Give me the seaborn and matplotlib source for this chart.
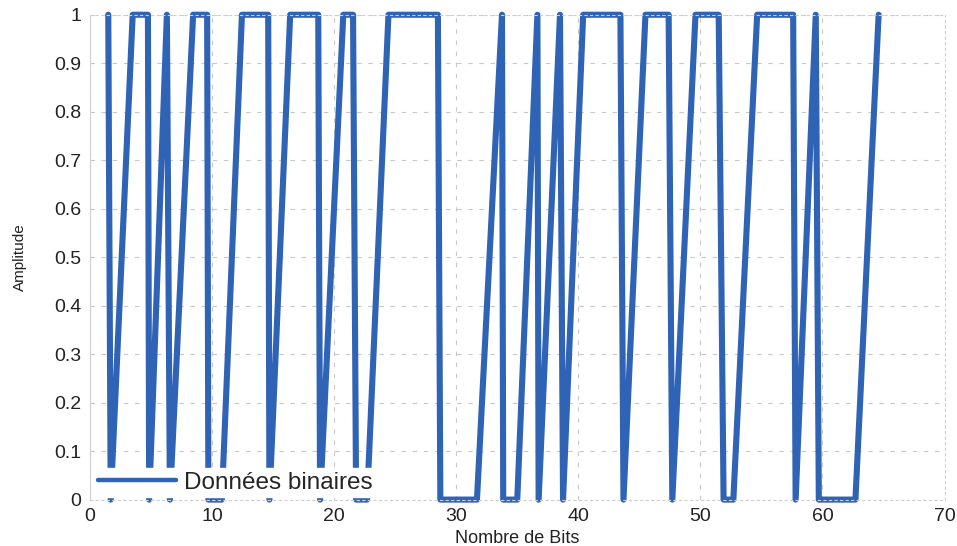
import matplotlib
matplotlib.use("Agg")
import matplotlib.pyplot as plt
import seaborn as sns
import pandas as pd

# Vertices of the binary-data trace (bit position, amplitude)
bit_pos = [1.5, 1.7, 3.5, 4.75, 4.85, 6.3, 6.55, 8.45, 9.6, 9.7, 10.8, 12.45,
           14.6, 14.7, 16.4, 18.7, 18.85, 20.75, 21.55, 21.8, 22.7, 24.45,
           28.5, 28.7, 31.7, 33.75, 33.85, 35.0, 36.65, 36.75, 38.5, 38.75,
           40.4, 43.45, 43.7, 45.5, 47.4, 47.7, 49.6, 51.5, 51.9, 52.7,
           54.65, 57.6, 57.8, 59.45, 59.7, 62.7, 64.6]
amplitude = [1, 0, 1, 1, 0, 1, 0, 1, 1, 0, 0, 1,
             1, 0, 1, 1, 0, 1, 1, 0, 0, 1,
             1, 0, 0, 1, 0, 0, 1, 0, 1, 0,
             1, 1, 0, 1, 1, 0, 1, 1, 0, 0,
             1, 1, 0, 1, 0, 0, 1]

x_ticks = [0, 10, 20, 30, 40, 50, 60, 70]
y_ticks = [0, 0.1, 0.2, 0.3, 0.4, 0.5, 0.6, 0.7, 0.8, 0.9, 1]
y_tick_labels = ["0", "0.1", "0.2", "0.3", "0.4", "0.5", "0.6", "0.7", "0.8", "0.9", "1"]

series_name = "Données binaires"
x_label = "Nombre de Bits"
y_label = "Amplitude"

df = pd.DataFrame({"x": bit_pos, "y": amplitude})

sns.set_theme(style="white")
plt.rcParams["font.family"] = ["Liberation Sans", "DejaVu Sans"]

fig = plt.figure(figsize=(9.57, 5.46), dpi=100)
ax = fig.add_axes([0.094, 0.085, 0.893, 0.888])

sns.lineplot(data=df, x="x", y="y", sort=False, estimator=None, ax=ax,
             color="#2f63b5", linewidth=4.4, label=series_name, clip_on=False)

ax.set_xlim(0, 70)
ax.set_ylim(0, 1)
ax.set_xticks(x_ticks)
ax.set_xticklabels([str(t) for t in x_ticks])
ax.set_yticks(y_ticks)
ax.set_yticklabels(y_tick_labels)
ax.tick_params(axis="both", labelsize=14, colors="#222222", length=0, pad=6)

ax.grid(True, linestyle=(0, (4, 6)), color="#c8c8c8", linewidth=0.8)
for side in ["top", "right", "bottom", "left"]:
    ax.spines[side].set_visible(True)
    ax.spines[side].set_color("#d0d0d0")
    ax.spines[side].set_linewidth(0.8)
    ax.spines[side].set_linestyle((0, (2, 3)))
ax.spines["left"].set_linestyle("-")

ax.set_xlabel(x_label, fontsize=13, color="#222222", labelpad=4)
ax.set_ylabel(y_label, fontsize=11, color="#222222", labelpad=20)

leg = ax.legend(loc="lower left", bbox_to_anchor=(0.005, 0.005), fontsize=17.5,
                frameon=True, facecolor="white", edgecolor="white", framealpha=1,
                handlelength=3.2, handletextpad=0.35, borderpad=0.15,
                borderaxespad=0.0, fancybox=False)
for line in leg.get_lines():
    line.set_linewidth(3.2)

fig.savefig("out.png", dpi=100)
